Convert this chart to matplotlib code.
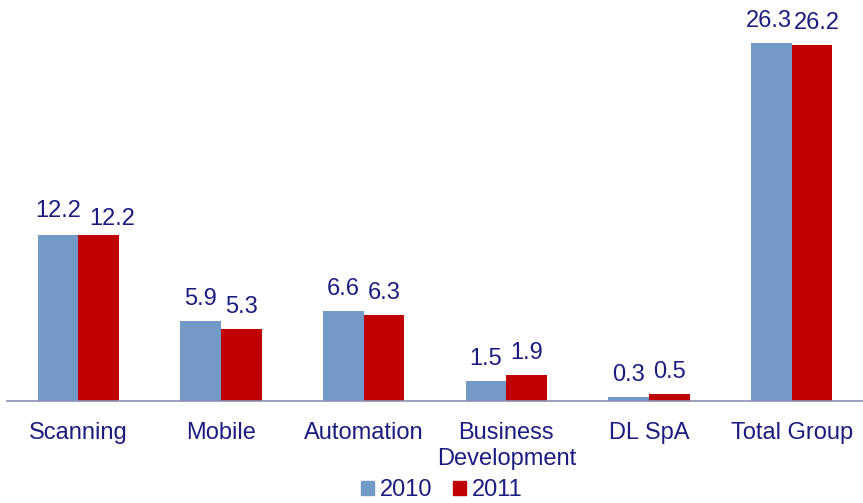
import numpy as np
import matplotlib
matplotlib.use("Agg")
from matplotlib import pyplot
from matplotlib.patches import Patch

categories = ["Scanning", "Mobile", "Automation", "Business\nDevelopment", "DL SpA", "Total Group"]
values_2010 = [12.2, 5.9, 6.6, 1.5, 0.3, 26.3]
values_2011 = [12.2, 5.3, 6.3, 1.9, 0.5, 26.2]
series_names = ["2010", "2011"]

blue = "#7399c6"
red = "#c00000"
navy = "#1c1c80"

# nudges (pixels) for labels that would collide, as in the original
nudge_2010 = [(0, 2), (0, 0), (0, 0), (0, 0), (0, 0), (-2, 0)]
nudge_2011 = [(14, -6), (0, 0), (0, 0), (0, 0), (0, 0), (5, 0)]

pyplot.rcParams["font.family"] = ["Liberation Sans", "DejaVu Sans"]

fig = pyplot.figure(figsize=(8.63, 5.03), dpi=100)
ax = fig.add_axes([7 / 863, 102 / 503, 856 / 863, 401 / 503])

x = np.arange(len(categories))
w = 0.285
b1 = ax.bar(x - w / 2, values_2010, w, color=blue, label=series_names[0])
b2 = ax.bar(x + w / 2, values_2011, w, color=red, label=series_names[1])

px = 0.72  # points per pixel
for bars, nudges in ((b1, nudge_2010), (b2, nudge_2011)):
    for rect, (nx, ny) in zip(bars, nudges):
        h = rect.get_height()
        ax.annotate("%.1f" % h, (rect.get_x() + rect.get_width() / 2, h),
                    xytext=(nx * px, (16 + ny) * px), textcoords="offset points",
                    ha="center", va="baseline", fontsize=17, color=navy)

ax.set_xlim(-0.5, len(categories) - 0.5)
ax.set_ylim(0, 29.5)
ax.set_yticks([])
ax.set_xticks(x)
ax.set_xticklabels(categories, fontsize=17, color=navy, linespacing=1.22)
ax.tick_params(axis="x", length=0, pad=15)
for s in ["top", "right", "left"]:
    ax.spines[s].set_visible(False)
ax.spines["bottom"].set_color("#8c8fb4")
ax.spines["bottom"].set_linewidth(1.2)

handles = [Patch(color=blue), Patch(color=red)]
fig.legend(handles, series_names, loc="center", bbox_to_anchor=(0.512, 0.025),
           ncol=2, frameon=False, fontsize=17, labelcolor=navy,
           handlelength=0.55, handleheight=0.55, handletextpad=0.25, columnspacing=0.85)

fig.savefig("out.png", dpi=100)
